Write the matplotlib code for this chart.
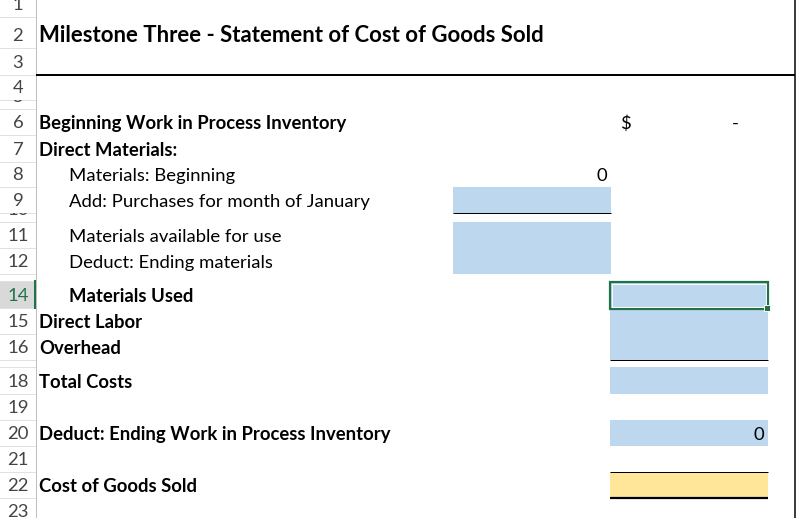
import matplotlib
matplotlib.use("Agg")
import matplotlib.pyplot as plt
from matplotlib.patches import Rectangle
from matplotlib.transforms import Bbox

# ---------------- data ----------------
row_numbers = list(range(1, 24))
row_heights = [17, 31, 27, 25, 9, 26, 27, 25, 26, 9, 26, 26, 7, 27, 26, 26, 7, 27, 26, 26, 26, 26, 26]

title_text = "Milestone Three - Statement of Cost of Goods Sold"
label_rows = [6, 7, 8, 9, 11, 12, 14, 15, 16, 18, 20, 22]
label_texts = [
    "Beginning Work in Process Inventory",
    "Direct Materials:",
    "Materials: Beginning",
    "Add: Purchases for month of January",
    "Materials available for use",
    "Deduct: Ending materials",
    "Materials Used",
    "Direct Labor",
    "Overhead",
    "Total Costs",
    "Deduct: Ending Work in Process Inventory",
    "Cost of Goods Sold",
]
label_bold = [True, True, False, False, False, False, True, True, True, True, True, True]
label_indented = [False, False, True, True, True, True, True, False, False, False, False, False]

# values: (row, kind, text)
value_rows = [6, 6, 8, 20]
value_kinds = ["currency", "dash", "C", "D"]
value_texts = ["$", "-", "0", "0"]

blue_cells_C = [(9, 9), (11, 12)]
blue_cells_D = [(14, 14), (15, 16), (18, 18), (20, 20)]
yellow_cells_D = [(22, 22)]
selected_row = 14

# ---------------- layout ----------------
W, H = 812, 518
fig = plt.figure(figsize=(W / 100, H / 100), dpi=100)
ax = fig.add_axes([0, 0, 1, 1])
ax.set_xlim(0, W)
ax.set_ylim(H, 0)
ax.axis("off")

FONT = "Lato"
BODY = 13.3
TITLE = 15.9
px = 0.72  # points per pixel
BASE = 6   # baseline offset from row bottom

tops = []
y = 0
for h in row_heights:
    tops.append(y)
    y += h
bottoms = [t + h for t, h in zip(tops, row_heights)]
top_of = dict(zip(row_numbers, tops))
bot_of = dict(zip(row_numbers, bottoms))

HDR_W = 36
COL_A = 36
COL_C = (453, 611)
COL_D = (610, 768)
RIGHT = 795
BLUE = "#BDD7EE"
YELLOW = "#FFE699"
GREEN = "#217346"

# header column
for r, t, b in zip(row_numbers, tops, bottoms):
    if r == selected_row:
        ax.add_patch(Rectangle((0, t), HDR_W, b - t, facecolor="#D9D9D9", edgecolor="none", zorder=1))
    ax.plot([0, HDR_W], [b, b], color="#E1E1E1", lw=1 * px, zorder=2)
    txt = ax.text(18, b - BASE - 1, str(r), ha="center", va="baseline",
                  fontsize=BODY, family=FONT,
                  color=GREEN if r == selected_row else "#444444", zorder=3)
    txt.set_clip_box(Bbox([[0, H - b], [HDR_W, H - t]]))
    txt.set_clip_on(True)
ax.plot([HDR_W, HDR_W], [0, H], color="#BFBFBF", lw=1 * px, zorder=2)
ax.plot([HDR_W - 1, HDR_W - 1], [top_of[selected_row], bot_of[selected_row]],
        color=GREEN, lw=2 * px, zorder=4)

# fills
def fill(col, r0, r1, color):
    ax.add_patch(Rectangle((col[0], top_of[r0]), col[1] - col[0],
                           bot_of[r1] - top_of[r0], facecolor=color, edgecolor="none", zorder=1))

for (r0, r1) in blue_cells_C:
    fill(COL_C, r0, r1, BLUE)
for (r0, r1) in blue_cells_D:
    fill(COL_D, r0, r1, BLUE)
for (r0, r1) in yellow_cells_D:
    fill(COL_D, r0, r1, YELLOW)

# borders
def hline(x0, x1, yy, w):
    ax.plot([x0, x1], [yy, yy], color="black", lw=w * px, zorder=3, solid_capstyle="butt")

hline(COL_A, RIGHT, bot_of[3], 2)
ax.plot([RIGHT, RIGHT], [0, H], color="black", lw=1.5 * px, zorder=3)
hline(COL_C[0], COL_C[1], bot_of[9], 1)
hline(COL_D[0], COL_D[1], bot_of[16], 1)
hline(COL_D[0], COL_D[1], top_of[22], 1)
hline(COL_D[0], COL_D[1], bot_of[22], 2.2)

# selection box on D14
st, sb = top_of[selected_row], bot_of[selected_row]
ax.add_patch(Rectangle((COL_D[0] + 0.5, st + 0.5), COL_D[1] - COL_D[0], sb - st,
                       facecolor="none", edgecolor=GREEN, lw=2.2 * px, zorder=5))
ax.add_patch(Rectangle((COL_D[0] + 2.5, st + 2.5), COL_D[1] - COL_D[0] - 4, sb - st - 4,
                       facecolor="none", edgecolor="white", lw=0.9 * px, zorder=5))
ax.add_patch(Rectangle((COL_D[1] - 3.5, sb - 3.5), 6, 6,
                       facecolor=GREEN, edgecolor="white", lw=0.9 * px, zorder=6))

# title
ax.text(39, bot_of[2] - BASE, title_text, ha="left", va="baseline",
        fontsize=TITLE, family=FONT, weight="bold", color="black", zorder=4)

# labels
for r, t, b, ind in zip(label_rows, label_texts, label_bold, label_indented):
    ax.text(69 if ind else 39, bot_of[r] - BASE, t, ha="left", va="baseline",
            fontsize=BODY, family=FONT, weight="bold" if b else "normal",
            color="black", zorder=4)

# values
for r, k, t in zip(value_rows, value_kinds, value_texts):
    yb = bot_of[r] - BASE
    if k == "currency":
        ax.text(620, yb, t, ha="left", va="baseline", fontsize=BODY, family=FONT, zorder=4)
    elif k == "dash":
        ax.text(735, yb, t, ha="center", va="baseline", fontsize=BODY, family=FONT, zorder=4)
    elif k == "D":
        ax.text(COL_D[1] - 4, yb, t, ha="right", va="baseline", fontsize=BODY, family=FONT, zorder=4)
    else:
        ax.text(COL_C[1] - 4, yb, t, ha="right", va="baseline", fontsize=BODY, family=FONT, zorder=4)

fig.savefig("out.png", dpi=100)
